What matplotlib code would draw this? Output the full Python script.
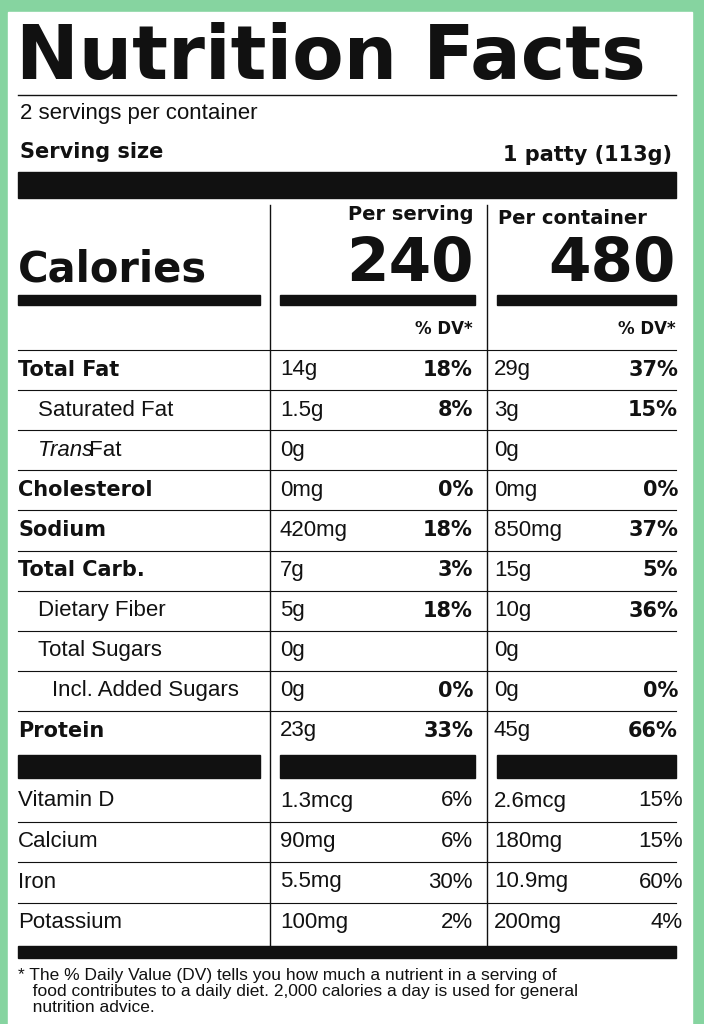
import matplotlib.pyplot as plt
from matplotlib.patches import Rectangle

# nutrient rows: label, bold, indent, italic-prefix
labels = ["Total Fat", "Saturated Fat", "Trans Fat", "Cholesterol", "Sodium",
          "Total Carb.", "Dietary Fiber", "Total Sugars", "Incl. Added Sugars", "Protein"]
bold = [True, False, False, True, True, True, False, False, False, True]
indent = [0, 1, 1, 0, 0, 0, 1, 1, 2, 0]
serv_amt = ["14g", "1.5g", "0g", "0mg", "420mg", "7g", "5g", "0g", "0g", "23g"]
serv_dv = ["18%", "8%", "", "0%", "18%", "3%", "18%", "", "0%", "33%"]
cont_amt = ["29g", "3g", "0g", "0mg", "850mg", "15g", "10g", "0g", "0g", "45g"]
cont_dv = ["37%", "15%", "", "0%", "37%", "5%", "36%", "", "0%", "66%"]

vit_labels = ["Vitamin D", "Calcium", "Iron", "Potassium"]
vit_serv_amt = ["1.3mcg", "90mg", "5.5mg", "100mg"]
vit_serv_dv = ["6%", "6%", "30%", "2%"]
vit_cont_amt = ["2.6mcg", "180mg", "10.9mg", "200mg"]
vit_cont_dv = ["15%", "15%", "60%", "4%"]

FONT = "Liberation Sans"
BOLDFONT = "DejaVu Sans"
fig = plt.figure(figsize=(7.04, 10.24), dpi=100)
fig.patch.set_facecolor("#86d4a0")
ax = fig.add_axes([0, 0, 1, 1])
ax.set_xlim(0, 704)
ax.set_ylim(1024, 0)
ax.axis("off")

ax.add_patch(Rectangle((8, 12), 684, 1020, color="white"))

def t(x, y, s, size=15, w="normal", ha="left", style="normal", fam=None):
    ax.text(x, y, s, fontsize=size, fontweight=w, ha=ha, va="center",
            family=fam or (BOLDFONT if w == "bold" else FONT), style=style, color="#111")

def bar(x0, x1, y, h):
    ax.add_patch(Rectangle((x0, y), x1 - x0, h, color="#111"))

t(16, 58, "Nutrition Facts", 54, "bold")
ax.plot([18, 676], [95, 95], color="#111", lw=1)
t(20, 114, "2 servings per container", 16)
t(20, 152, "Serving size", 15, "bold")
t(672, 155, "1 patty (113g)", 15, "bold", ha="right")
bar(18, 676, 172, 26)

t(474, 215, "Per serving", 14, "bold", ha="right")
t(498, 218, "Per container", 14, "bold")
t(18, 270, "Calories", 30, "bold")
t(474, 265, "240", 44, "bold", ha="right")
t(676, 265, "480", 44, "bold", ha="right")
for x0, x1 in [(18, 260), (280, 475), (497, 676)]:
    bar(x0, x1, 295, 10)
t(473, 329, "% DV*", 12, "bold", ha="right")
t(676, 329, "% DV*", 12, "bold", ha="right")

ax.plot([270, 270], [205, 945], color="#111", lw=1)
ax.plot([487, 487], [205, 945], color="#111", lw=1)

y0, dy = 370, 40.1
for i, lab in enumerate(labels):
    y = y0 + i * dy
    ax.plot([18, 676], [y - 20, y - 20], color="#111", lw=0.8)
    x = 18 + indent[i] * 20 - (6 if indent[i] == 2 else 0)
    w = "bold" if bold[i] else "normal"
    if lab == "Trans Fat":
        t(x, y, "Trans", 16, style="italic")
        t(x + 45, y, " Fat", 16)
    else:
        t(x, y, lab, 15 if bold[i] else 16, w)
    t(280, y, serv_amt[i], 16)
    t(473, y, serv_dv[i], 15, "bold", ha="right")
    t(494, y, cont_amt[i], 16)
    t(678, y, cont_dv[i], 15, "bold", ha="right")

for x0, x1 in [(18, 260), (280, 475), (497, 676)]:
    bar(x0, x1, 755, 23)

for i, lab in enumerate(vit_labels):
    y = 801 + i * 40.5
    if i > 0:
        ax.plot([18, 676], [y - 20, y - 20], color="#111", lw=0.8)
    t(18, y, lab, 16)
    t(280, y, vit_serv_amt[i], 16)
    t(473, y, vit_serv_dv[i], 16, ha="right")
    t(494, y, vit_cont_amt[i], 16)
    t(683, y, vit_cont_dv[i], 16, ha="right")

bar(18, 676, 946, 12)
ax.text(18, 968, "* The % Daily Value (DV) tells you how much a nutrient in a serving of\n"
        "   food contributes to a daily diet. 2,000 calories a day is used for general\n"
        "   nutrition advice.", fontsize=12.5, family=FONT, va="top", color="#111",
        linespacing=1.1)
fig.savefig("out.png", dpi=100, facecolor=fig.get_facecolor())
